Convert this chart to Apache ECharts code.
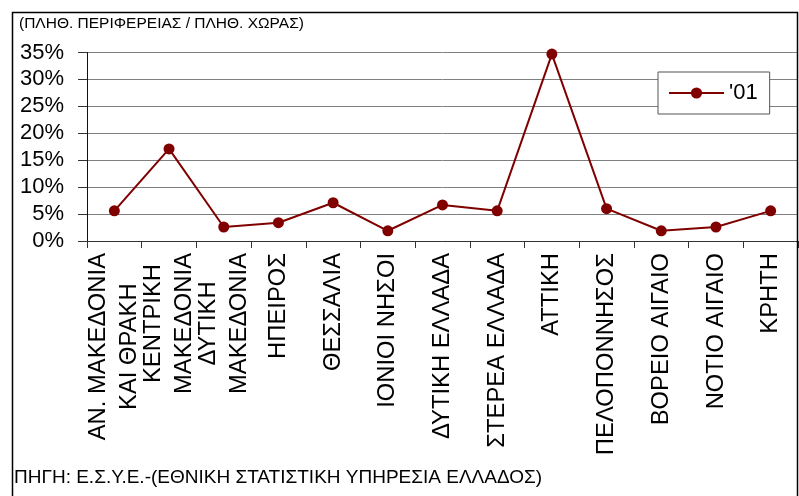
<!DOCTYPE html>
<html>
<head>
<meta charset="utf-8">
<script src="https://cdn.jsdelivr.net/npm/echarts@6/dist/echarts.min.js"></script>
<style>
html,body{margin:0;padding:0;background:#fff;}
#c{width:799px;height:496px;}
</style>
</head>
<body>
<div id="c"></div>
<script>
const categories = ['ΑΝ. ΜΑΚΕΔΟΝΙΑ\nΚΑΙ ΘΡΑΚΗ', 'ΚΕΝΤΡΙΚΗ\nΜΑΚΕΔΟΝΙΑ', 'ΔΥΤΙΚΗ\nΜΑΚΕΔΟΝΙΑ', 'ΗΠΕΙΡΟΣ', 'ΘΕΣΣΑΛΙΑ', 'ΙΟΝΙΟΙ ΝΗΣΟΙ', 'ΔΥΤΙΚΗ ΕΛΛΑΔΑ', 'ΣΤΕΡΕΑ ΕΛΛΑΔΑ', 'ΑΤΤΙΚΗ', 'ΠΕΛΟΠΟΝΝΗΣΟΣ', 'ΒΟΡΕΙΟ ΑΙΓΑΙΟ', 'ΝΟΤΙΟ ΑΙΓΑΙΟ', 'ΚΡΗΤΗ'];
const values01 = [5.6, 17.1, 2.6, 3.4, 7.1, 1.9, 6.7, 5.6, 34.7, 6.0, 1.9, 2.6, 5.6];
const seriesName = "'01";
const yMin = 0, yMax = 35, yStep = 5;
const titleText = '(ΠΛΗΘ. ΠΕΡΙΦΕΡΕΙΑΣ / ΠΛΗΘ. ΧΩΡΑΣ)';
const sourceText = 'ΠΗΓΗ: Ε.Σ.Υ.Ε.-(ΕΘΝΙΚΗ ΣΤΑΤΙΣΤΙΚΗ ΥΠΗΡΕΣΙΑ ΕΛΛΑΔΟΣ)';

const FF = '"Liberation Sans", Arial, sans-serif';
const chart = echarts.init(document.getElementById('c'), null, {renderer: 'canvas'});
chart.setOption({
  animation: false,
  backgroundColor: '#fff',
  title: {
    text: titleText,
    left: 19, top: 16, padding: 0,
    textStyle: {fontFamily: FF, fontSize: 15.5, fontWeight: 'normal', color: '#000'}
  },
  legend: {
    left: 658, top: 72,
    padding: [10, 12, 10, 10],
    itemWidth: 55, itemHeight: 14,
    backgroundColor: '#fff',
    borderColor: '#555', borderWidth: 1,
    textStyle: {fontFamily: FF, fontSize: 22, color: '#000'},
    data: [seriesName]
  },
  grid: {left: 87, top: 52.5, right: 1, bottom: 255, containLabel: false},
  xAxis: {
    type: 'category',
    data: categories,
    boundaryGap: true,
    axisLine: {lineStyle: {color: '#333', width: 1}},
    axisTick: {show: true, length: 7, lineStyle: {color: '#333'}},
    axisLabel: {
      interval: 0, rotate: 90, margin: 12,
      fontFamily: FF, fontSize: 23.8, color: '#000', lineHeight: 31,
      formatter: function (v) { return v.split('\n').map(s => '{c|' + s + '}').join('\n'); },
      rich: {c: {align: 'center', fontFamily: FF, fontSize: 23.8, lineHeight: 31, color: '#000'}}
    }
  },
  yAxis: {
    type: 'value',
    min: yMin, max: yMax, interval: yStep,
    axisLine: {show: true, lineStyle: {color: '#111', width: 1}},
    axisTick: {show: true, length: 9, lineStyle: {color: '#333'}},
    axisLabel: {margin: 23, fontFamily: FF, fontSize: 22, color: '#000', formatter: '{value}%'},
    splitLine: {show: true, lineStyle: {color: '#808080', width: 1}}
  },
  series: [{
    name: seriesName,
    type: 'line',
    data: values01,
    symbol: 'circle',
    symbolSize: 11,
    lineStyle: {color: '#800000', width: 2},
    itemStyle: {color: '#800000'}
  }],
  graphic: [
    {type: 'rect', z: 100, silent: true,
     shape: {x: 12.5, y: 12.5, width: 785, height: 500},
     style: {fill: 'none', stroke: '#000', lineWidth: 1.5}},
    {type: 'text', left: 14, top: 468, z: 100,
     style: {text: sourceText, fontFamily: FF, fontSize: 19, fill: '#000'}}
  ]
});
</script>
</body>
</html>
